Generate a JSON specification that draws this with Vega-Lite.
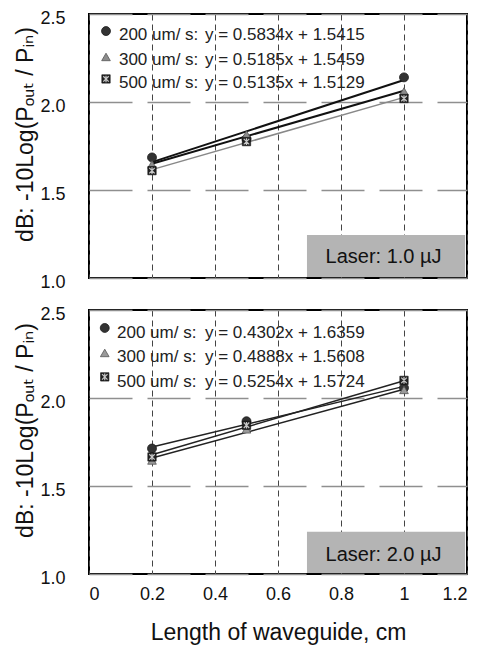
{
  "$schema": "https://vega.github.io/schema/vega-lite/v6.json",
  "padding": {"left": 12, "top": 8, "right": 5, "bottom": 5},
  "bounds": "flush",
  "spacing": 32,
  "config": {
    "view": {"stroke": "#000", "strokeWidth": 2},
    "font": "Liberation Sans",
    "axis": {
      "labelFont": "Liberation Sans",
      "labelFontSize": 18,
      "labelColor": "#111",
      "titleFont": "Liberation Sans, DejaVu Sans",
      "titleFontSize": 23,
      "titleFontWeight": "normal",
      "titleColor": "#111",
      "ticks": false,
      "domain": false
    },
    "axisX": {"gridDash": [6, 4], "gridColor": "#444", "gridWidth": 1, "labelPadding": 11, "titlePadding": 18},
    "axisY": {"gridDash": [43, 15], "gridColor": "#8f8f8f", "gridWidth": 1.5, "labelPadding": 24, "labelOffset": 4}
  },
  "datasets": {
    "box": [
      {"panel": 1, "x": 0.692, "x2": 1.194, "y": 1.006, "y2": 1.244},
      {"panel": 2, "x": 0.692, "x2": 1.194, "y": 1.006, "y2": 1.24}
    ],
    "boxtext": [
      {"panel": 1, "x": 0.935, "y": 1.119, "text": "Laser: 1.0 µJ"},
      {"panel": 2, "x": 0.935, "y": 1.108, "text": "Laser: 2.0 µJ"}
    ],
    "fits": [
      {"panel": 1, "speed": "200", "x": 0.2, "y": 1.6582},
      {"panel": 1, "speed": "200", "x": 1.0, "y": 2.1249},
      {"panel": 1, "speed": "300", "x": 0.2, "y": 1.6496},
      {"panel": 1, "speed": "300", "x": 1.0, "y": 2.0644},
      {"panel": 1, "speed": "500", "x": 0.2, "y": 1.6156},
      {"panel": 1, "speed": "500", "x": 1.0, "y": 2.0264},
      {"panel": 2, "speed": "200", "x": 0.2, "y": 1.7219},
      {"panel": 2, "speed": "200", "x": 1.0, "y": 2.0661},
      {"panel": 2, "speed": "300", "x": 0.2, "y": 1.6586},
      {"panel": 2, "speed": "300", "x": 1.0, "y": 2.0496},
      {"panel": 2, "speed": "500", "x": 0.2, "y": 1.6775},
      {"panel": 2, "speed": "500", "x": 1.0, "y": 2.0978}
    ],
    "markers": [
      {"panel": 1, "speed": "200", "x": 0.2, "y": 1.685},
      {"panel": 1, "speed": "200", "x": 0.5, "y": 1.79},
      {"panel": 1, "speed": "200", "x": 1.0, "y": 2.14},
      {"panel": 1, "speed": "300", "x": 0.2, "y": 1.645},
      {"panel": 1, "speed": "300", "x": 0.5, "y": 1.815},
      {"panel": 1, "speed": "300", "x": 1.0, "y": 2.06},
      {"panel": 1, "speed": "500", "x": 0.2, "y": 1.61},
      {"panel": 1, "speed": "500", "x": 0.5, "y": 1.775},
      {"panel": 1, "speed": "500", "x": 1.0, "y": 2.02},
      {"panel": 2, "speed": "200", "x": 0.2, "y": 1.713},
      {"panel": 2, "speed": "200", "x": 0.5, "y": 1.868},
      {"panel": 2, "speed": "200", "x": 1.0, "y": 2.058},
      {"panel": 2, "speed": "300", "x": 0.2, "y": 1.645},
      {"panel": 2, "speed": "300", "x": 0.5, "y": 1.822},
      {"panel": 2, "speed": "300", "x": 1.0, "y": 2.046},
      {"panel": 2, "speed": "500", "x": 0.2, "y": 1.665},
      {"panel": 2, "speed": "500", "x": 0.5, "y": 1.845},
      {"panel": 2, "speed": "500", "x": 1.0, "y": 2.1},
      {"panel": 1, "speed": "200", "x": 0.054, "y": 2.403},
      {"panel": 1, "speed": "300", "x": 0.054, "y": 2.256},
      {"panel": 1, "speed": "500", "x": 0.054, "y": 2.131},
      {"panel": 2, "speed": "200", "x": 0.05, "y": 2.398},
      {"panel": 2, "speed": "300", "x": 0.05, "y": 2.256},
      {"panel": 2, "speed": "500", "x": 0.05, "y": 2.12}
    ],
    "legtext": [
      {"panel": 1, "x": 0.095, "y": 2.381, "text": "200 um/ s:"},
      {"panel": 1, "x": 0.368, "y": 2.381, "text": "y = 0.5834x + 1.5415"},
      {"panel": 1, "x": 0.095, "y": 2.239, "text": "300 um/ s:"},
      {"panel": 1, "x": 0.368, "y": 2.239, "text": "y = 0.5185x + 1.5459"},
      {"panel": 1, "x": 0.095, "y": 2.108, "text": "500 um/ s:"},
      {"panel": 1, "x": 0.368, "y": 2.108, "text": "y = 0.5135x + 1.5129"},
      {"panel": 2, "x": 0.089, "y": 2.369, "text": "200 um/ s:"},
      {"panel": 2, "x": 0.368, "y": 2.369, "text": "y = 0.4302x + 1.6359"},
      {"panel": 2, "x": 0.089, "y": 2.233, "text": "300 um/ s:"},
      {"panel": 2, "x": 0.368, "y": 2.233, "text": "y = 0.4888x + 1.5608"},
      {"panel": 2, "x": 0.089, "y": 2.093, "text": "500 um/ s:"},
      {"panel": 2, "x": 0.368, "y": 2.093, "text": "y = 0.5254x + 1.5724"}
    ]
  },
  "vconcat": [
    {
      "width": 378,
      "height": 264,
      "encoding": {
        "x": {"field": "x", "type": "quantitative", "scale": {"domain": [0, 1.2], "nice": false},
          "axis": {"values": [0, 0.2, 0.4, 0.6, 0.8, 1, 1.2], "labels": false, "title": null, "grid": true}},
        "y": {"field": "y", "type": "quantitative", "scale": {"domain": [1, 2.5], "nice": false},
          "axis": {"values": [1, 1.5, 2, 2.5], "format": ".1f", "grid": true,
            "title": "dB: -10Log(Pₒᵤₜ / Pᵢₙ)", "titleAngle": -90, "titleAlign": "center", "titleBaseline": "middle", "titleX": -64, "titleY": 120}}
      },
      "layer": [
        {"data": {"name": "box"}, "transform": [{"filter": "datum.panel == 1"}],
          "mark": {"type": "rect", "fill": "#b4b4b4"},
          "encoding": {"x2": {"field": "x2"}, "y2": {"field": "y2"}}},
        {"data": {"name": "boxtext"}, "transform": [{"filter": "datum.panel == 1"}],
          "mark": {"type": "text", "fontSize": 20, "color": "#111", "align": "center", "baseline": "middle"},
          "encoding": {"text": {"field": "text"}}},
        {"data": {"name": "fits"}, "transform": [{"filter": "datum.panel == 1 && datum.speed != '500'"}],
          "mark": {"type": "line", "color": "#111", "strokeWidth": 2},
          "encoding": {"detail": {"field": "speed"}}},
        {"data": {"name": "fits"}, "transform": [{"filter": "datum.panel == 1 && datum.speed == '500'"}],
          "mark": {"type": "line", "color": "#888", "strokeWidth": 1.5},
          "encoding": {"detail": {"field": "speed"}}},
        {"data": {"name": "markers"}, "transform": [{"filter": "datum.panel == 1 && datum.speed == '200'"}],
          "mark": {"type": "point", "shape": "circle", "filled": true, "fill": "#333", "stroke": "#1a1a1a", "strokeWidth": 0.8, "size": 80, "opacity": 1}},
        {"data": {"name": "markers"}, "transform": [{"filter": "datum.panel == 1 && datum.speed == '300'"}],
          "mark": {"type": "point", "shape": "triangle-up", "filled": true, "fill": "#8c8c8c", "stroke": "#555", "strokeWidth": 0.8, "size": 75, "opacity": 1}},
        {"data": {"name": "markers"}, "transform": [{"filter": "datum.panel == 1 && datum.speed == '500'"}],
          "mark": {"type": "point", "shape": "square", "filled": true, "fill": "#222", "stroke": "#111", "strokeWidth": 0.6, "size": 70, "opacity": 1}},
        {"data": {"name": "markers"}, "transform": [{"filter": "datum.panel == 1 && datum.speed == '500'"}],
          "mark": {"type": "point", "shape": "M-1,-1L1,1M-1,1L1,-1M0,-1.2L0,1.2", "filled": false, "stroke": "#c8c8c8", "strokeWidth": 1.2, "size": 30, "opacity": 1}},
        {"data": {"name": "legtext"}, "transform": [{"filter": "datum.panel == 1"}],
          "mark": {"type": "text", "fontSize": 17, "color": "#222", "align": "left", "baseline": "middle"},
          "encoding": {"text": {"field": "text"}}}
      ]
    },
    {
      "width": 378,
      "height": 264,
      "encoding": {
        "x": {"field": "x", "type": "quantitative", "scale": {"domain": [0, 1.2], "nice": false},
          "axis": {"values": [0, 0.2, 0.4, 0.6, 0.8, 1, 1.2], "format": "~g", "grid": true, "title": "Length of waveguide, cm"}},
        "y": {"field": "y", "type": "quantitative", "scale": {"domain": [1, 2.5], "nice": false},
          "axis": {"values": [1, 1.5, 2, 2.5], "format": ".1f", "grid": true,
            "title": "dB: -10Log(Pₒᵤₜ / Pᵢₙ)", "titleAngle": -90, "titleAlign": "center", "titleBaseline": "middle", "titleX": -64, "titleY": 120}}
      },
      "layer": [
        {"data": {"name": "box"}, "transform": [{"filter": "datum.panel == 2"}],
          "mark": {"type": "rect", "fill": "#b4b4b4"},
          "encoding": {"x2": {"field": "x2"}, "y2": {"field": "y2"}}},
        {"data": {"name": "boxtext"}, "transform": [{"filter": "datum.panel == 2"}],
          "mark": {"type": "text", "fontSize": 20, "color": "#111", "align": "center", "baseline": "middle"},
          "encoding": {"text": {"field": "text"}}},
        {"data": {"name": "fits"}, "transform": [{"filter": "datum.panel == 2"}],
          "mark": {"type": "line", "color": "#222", "strokeWidth": 1.5},
          "encoding": {"detail": {"field": "speed"}}},
        {"data": {"name": "markers"}, "transform": [{"filter": "datum.panel == 2 && datum.speed == '200'"}],
          "mark": {"type": "point", "shape": "circle", "filled": true, "fill": "#333", "stroke": "#1a1a1a", "strokeWidth": 0.8, "size": 80, "opacity": 1}},
        {"data": {"name": "markers"}, "transform": [{"filter": "datum.panel == 2 && datum.speed == '300'"}],
          "mark": {"type": "point", "shape": "triangle-up", "filled": true, "fill": "#9a9a9a", "stroke": "#555", "strokeWidth": 0.8, "size": 75, "opacity": 1}},
        {"data": {"name": "markers"}, "transform": [{"filter": "datum.panel == 2 && datum.speed == '500'"}],
          "mark": {"type": "point", "shape": "square", "filled": true, "fill": "#222", "stroke": "#111", "strokeWidth": 0.6, "size": 70, "opacity": 1}},
        {"data": {"name": "markers"}, "transform": [{"filter": "datum.panel == 2 && datum.speed == '500'"}],
          "mark": {"type": "point", "shape": "M-1,-1L1,1M-1,1L1,-1M0,-1.2L0,1.2", "filled": false, "stroke": "#c8c8c8", "strokeWidth": 1.2, "size": 30, "opacity": 1}},
        {"data": {"name": "legtext"}, "transform": [{"filter": "datum.panel == 2"}],
          "mark": {"type": "text", "fontSize": 17, "color": "#222", "align": "left", "baseline": "middle"},
          "encoding": {"text": {"field": "text"}}}
      ]
    }
  ]
}
